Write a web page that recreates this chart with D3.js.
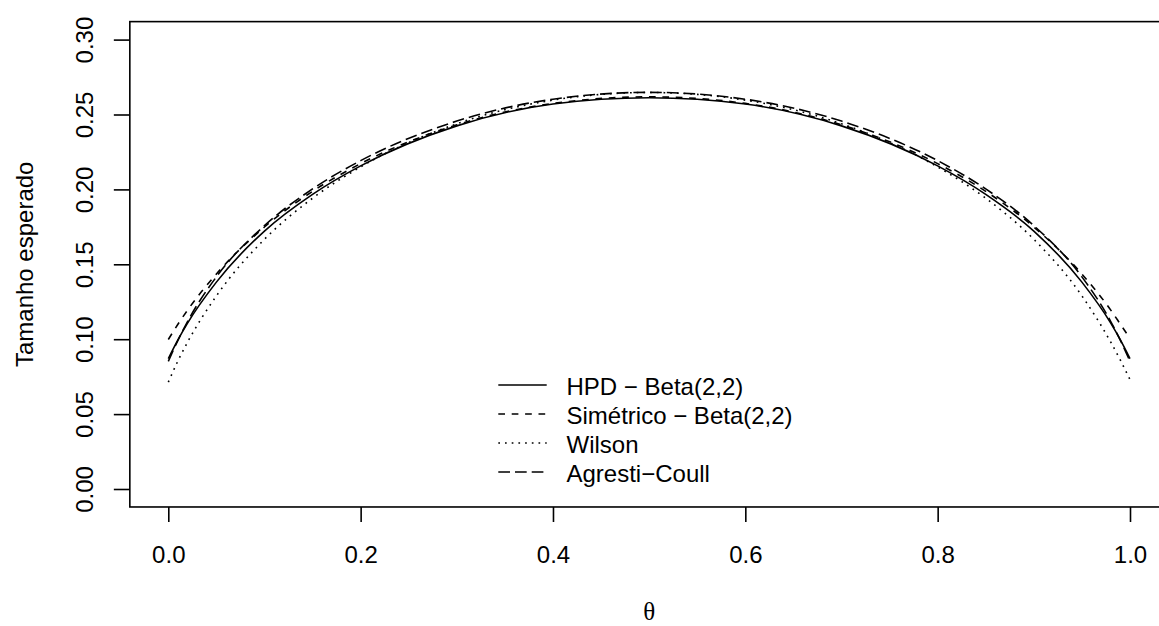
<!DOCTYPE html>
<html lang="pt">
<head>
<meta charset="utf-8">
<title>Tamanho esperado</title>
<script src="https://cdn.jsdelivr.net/npm/d3@7"></script>
<style>
  body { margin: 0; background: #fff; }
  svg { display: block; }
  text { font-family: "Liberation Sans", Arial, Helvetica, sans-serif; font-size: 24px; fill: #000; }
</style>
</head>
<body>
<script>
// valores
var theta  = [0, 0.01, 0.02, 0.05, 0.1, 0.15, 0.2, 0.3, 0.4, 0.5, 0.6, 0.7, 0.8, 0.85, 0.9, 0.95, 0.98, 0.99, 1];
var hpd    = [0.0870, 0.0995, 0.1107, 0.1381, 0.1722, 0.1967, 0.2157, 0.2424, 0.2570, 0.2612, 0.2570, 0.2424, 0.2157, 0.1967, 0.1722, 0.1381, 0.1107, 0.0995, 0.0870];
var simet  = [0.0998, 0.1100, 0.1194, 0.1435, 0.1749, 0.1987, 0.2172, 0.2431, 0.2574, 0.2618, 0.2574, 0.2431, 0.2172, 0.1987, 0.1749, 0.1435, 0.1194, 0.1100, 0.1005];
var wilson = [0.0713, 0.0855, 0.0980, 0.1289, 0.1667, 0.1941, 0.2150, 0.2438, 0.2596, 0.2647, 0.2596, 0.2438, 0.2150, 0.1941, 0.1667, 0.1289, 0.0980, 0.0860, 0.0730];
var agresti= [0.0852, 0.0992, 0.1118, 0.1416, 0.1758, 0.2003, 0.2192, 0.2456, 0.2602, 0.2648, 0.2602, 0.2456, 0.2192, 0.2003, 0.1758, 0.1416, 0.1118, 0.0992, 0.0852];

var xTicks = [0, 0.2, 0.4, 0.6, 0.8, 1.0];
var yTicks = [0, 0.05, 0.10, 0.15, 0.20, 0.25, 0.30];
var legendLabels = ["HPD \u2212 Beta(2,2)", "Sim\u00e9trico \u2212 Beta(2,2)", "Wilson", "Agresti\u2212Coull"];

var w = 1159, h = 626;

var svg = d3.select("body").append("svg")
    .attr("width", w)
    .attr("height", h);

var x = d3.scaleLinear().domain([0, 1]).range([168.3, 1130]);
var y = d3.scaleLinear().domain([0, 0.3]).range([489, 39.6]);

// limites do box (usr, com 4% de folga como no R)
var bx0 = x(-0.04), bx1 = x(1.04), by0 = y(-0.012), by1 = y(0.312);

var series = [
  { v: hpd,     dash: null },
  { v: simet,   dash: "6.7,6.7" },
  { v: wilson,  dash: "1.7,5" },
  { v: agresti, dash: "11.7,5" }
];

var line = d3.line()
    .x(function(d) { return x(d[0]); })
    .y(function(d) { return y(d[1]); })
    .curve(d3.curveMonotoneX);

series.forEach(function(s) {
  var pts = theta.map(function(t, i) { return [t, s.v[i]]; });
  svg.append("path")
     .attr("d", line(pts))
     .attr("fill", "none")
     .attr("stroke", "#000")
     .attr("stroke-width", 1.6)
     .attr("stroke-dasharray", s.dash);
});

// eixo x
var gX = svg.append("g")
    .attr("transform", "translate(0," + by0 + ")")
    .call(d3.axisBottom(x).tickValues(xTicks).tickSize(15).tickSizeOuter(0)
          .tickFormat(d3.format(".1f")));
gX.select(".domain").remove();
gX.selectAll("line").attr("stroke-width", 1.6);
gX.selectAll("text").attr("y", 56).attr("dy", 0);

// eixo y
var gY = svg.append("g")
    .attr("transform", "translate(" + bx0 + ",0)")
    .call(d3.axisLeft(y).tickValues(yTicks).tickSize(16).tickSizeOuter(0)
          .tickFormat(d3.format(".2f")));
gY.select(".domain").remove();
gY.selectAll("line").attr("stroke-width", 1.6);
gY.selectAll("text")
   .attr("transform", "rotate(-90)")
   .attr("x", 0).attr("y", -37).attr("dy", 0)
   .attr("text-anchor", "middle");

svg.selectAll(".tick text").style("font-family", "'Liberation Sans', Arial, sans-serif").style("font-size", "24px");

// box
svg.append("rect")
   .attr("x", bx0).attr("y", by1)
   .attr("width", bx1 - bx0).attr("height", by0 - by1)
   .attr("fill", "none")
   .attr("stroke", "#000")
   .attr("stroke-width", 1.6);

// títulos
svg.append("text")
   .attr("x", (x(0) + x(1)) / 2).attr("y", 620)
   .attr("text-anchor", "middle")
   .style("font-family", "'Liberation Serif', 'DejaVu Serif', serif")
   .style("font-size", "25px")
   .text("\u03b8");

svg.append("text")
   .attr("transform", "translate(33," + ((by0 + by1) / 2) + ") rotate(-90)")
   .attr("text-anchor", "middle")
   .text("Tamanho esperado");

// legenda
var leg = svg.append("g");
legendLabels.forEach(function(lab, i) {
  var base = 395 + i * 29;
  leg.append("line")
     .attr("x1", 498.3).attr("x2", 546.7)
     .attr("y1", base - 10).attr("y2", base - 10)
     .attr("stroke", "#000")
     .attr("stroke-width", 1.6)
     .attr("stroke-dasharray", series[i].dash);
  leg.append("text")
     .attr("x", 566.5).attr("y", base)
     .text(lab);
});
</script>
</body>
</html>
